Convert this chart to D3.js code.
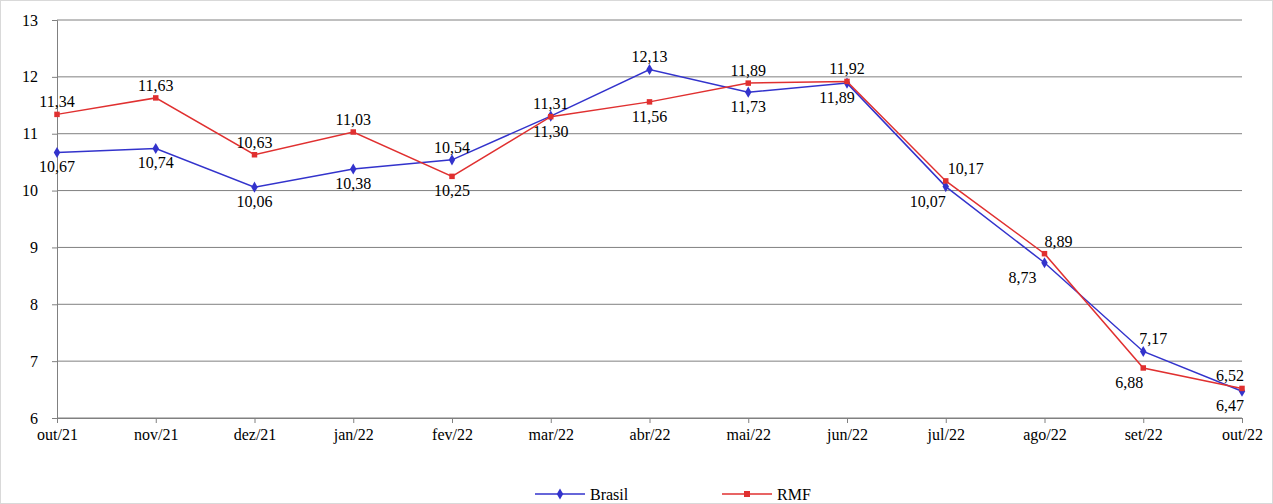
<!DOCTYPE html>
<html><head><meta charset="utf-8">
<script src="https://cdn.jsdelivr.net/npm/d3@7"></script>
<style>
body{margin:0;background:#fff;}
svg text{font-family:"Liberation Serif","Times New Roman","DejaVu Serif",serif !important;}
</style></head>
<body><svg id="chart" width="1273" height="504"></svg>
<script>
var months = ["out/21","nov/21","dez/21","jan/22","fev/22","mar/22","abr/22","mai/22","jun/22","jul/22","ago/22","set/22","out/22"];
var brasil = [10.67,10.74,10.06,10.38,10.54,11.31,12.13,11.73,11.89,10.07,8.73,7.17,6.47];
var rmf = [11.34,11.63,10.63,11.03,10.25,11.30,11.56,11.89,11.92,10.17,8.89,6.88,6.52];
var yTicks = [6,7,8,9,10,11,12,13];
// label placement: 1 above, -1 below; horizontal nudge
var brasilPos = [-1,-1,-1,-1,1,1,1,-1,-1,-1,-1,1,-1];
var rmfPos = [1,1,1,1,-1,-1,-1,1,1,1,1,-1,1];
var brasilDx = [0,0,0,0,0,0,0,0,-10,-18,-22,10,-12];
var rmfDx = [0,0,0,0,0,0,0,0,0,20,14,-14,-12];

var svg = d3.select("#chart");
var x = d3.scalePoint().domain(months).range([57,1242]);
var y = d3.scaleLinear().domain([6,13]).range([418,20]);

svg.append("rect").attr("x",0.5).attr("y",0.5).attr("width",1272).attr("height",503)
  .attr("fill","none").attr("stroke","#d9d9d9");

svg.selectAll(".grid").data(yTicks).enter().append("line")
  .attr("x1",57).attr("x2",1242).attr("y1",function(d){return y(d);}).attr("y2",function(d){return y(d);})
  .attr("stroke","#808080").attr("stroke-width",1);

var ya = svg.append("g").attr("transform","translate(57,0)")
  .call(d3.axisLeft(y).tickValues(yTicks).tickFormat(d3.format("d")).tickSize(5).tickPadding(14));
ya.attr("font-family",null);
ya.selectAll("text").attr("font-size",16).attr("fill","#000");
ya.selectAll("line,path").attr("stroke","#808080");

var xa = svg.append("g").attr("transform","translate(0,418)")
  .call(d3.axisBottom(x).tickSize(5).tickPadding(6));
xa.attr("font-family",null);
xa.selectAll("text").attr("font-size",16).attr("fill","#000");
xa.selectAll("line,path").attr("stroke","#808080");

var fmt = function(v){return v.toFixed(2).replace(".",",");};

function series(vals, pos, dx, color, shape){
  var line = d3.line().x(function(d,i){return x(months[i]);}).y(function(d){return y(d);});
  svg.append("path").datum(vals).attr("d",line).attr("fill","none").attr("stroke",color).attr("stroke-width",1.5);
  svg.selectAll(null).data(vals).enter().append("path")
    .attr("transform",function(d,i){return "translate("+x(months[i])+","+y(d)+")";})
    .attr("d",d3.symbol().type(shape).size(shape===d3.symbolSquare?30:36)())
    .attr("fill",color);
  svg.selectAll(null).data(vals).enter().append("text")
    .attr("x",function(d,i){return x(months[i]) + dx[i];})
    .attr("y",function(d,i){return y(d) + (pos[i]>0?-7:20);})
    .attr("text-anchor","middle").attr("font-size",16).attr("fill","#000")
    .text(function(d){return fmt(d);});
}
series(brasil, brasilPos, brasilDx, "#3333cc", d3.symbolDiamond);
series(rmf, rmfPos, rmfDx, "#e03030", d3.symbolSquare);

var leg = [{n:"Brasil",c:"#3333cc",s:d3.symbolDiamond,x:535},{n:"RMF",c:"#e03030",s:d3.symbolSquare,x:722}];
leg.forEach(function(l){
  svg.append("line").attr("x1",l.x).attr("x2",l.x+50).attr("y1",494).attr("y2",494).attr("stroke",l.c).attr("stroke-width",1.5);
  svg.append("path").attr("transform","translate("+(l.x+25)+",494)").attr("d",d3.symbol().type(l.s).size(36)()).attr("fill",l.c);
  svg.append("text").attr("x",l.x+55).attr("y",500).attr("font-size",16).text(l.n);
});
</script></body></html>
